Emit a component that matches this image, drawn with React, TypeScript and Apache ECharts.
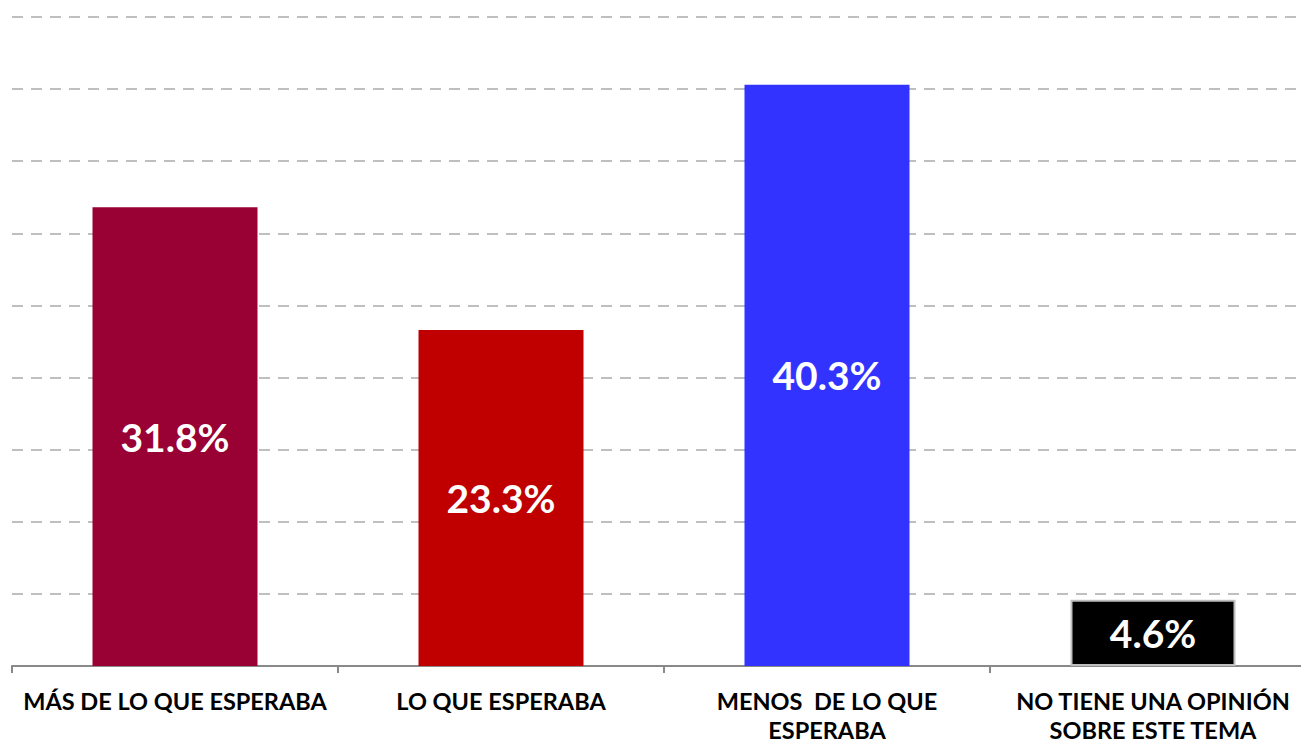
import React, { useEffect, useRef } from "react";
import * as echarts from "echarts";

const categories = [
  "MÁS DE LO QUE ESPERABA",
  "LO QUE ESPERABA",
  "MENOS  DE LO QUE\nESPERABA",
  "NO TIENE UNA OPINIÓN\nSOBRE ESTE TEMA",
];
const values = [31.8, 23.3, 40.3, 4.6];
const colors = ["#990033", "#c00000", "#3333ff", "#000000"];

export default function App() {
  const ref = useRef<HTMLDivElement>(null);
  useEffect(() => {
    if (!ref.current) return;
    const chart = echarts.init(ref.current, undefined, { renderer: "svg" });
    chart.setOption({
      animation: false,
      backgroundColor: "#ffffff",
      grid: { left: 12, right: 14, top: 17, bottom: 79, containLabel: false, outerBoundsMode: "none" },
      xAxis: {
        type: "category",
        data: categories,
        axisLine: { lineStyle: { color: "#898989", width: 2 } },
        axisTick: { show: true, length: 7, lineStyle: { color: "#898989", width: 2 } },
        axisLabel: {
          interval: 0,
          color: "#000000",
          fontFamily: "Lato",
          fontWeight: "bold",
          fontSize: 23.5,
          lineHeight: 29,
          margin: 20,
        },
      },
      yAxis: {
        type: "value",
        min: 0,
        max: 45,
        interval: 5,
        axisLine: { show: false },
        axisTick: { show: false },
        axisLabel: { show: false },
        splitLine: { lineStyle: { color: "#bfbfbf", width: 2, type: [11, 8] } },
      },
      series: [
        {
          type: "bar",
          barWidth: 165,
          data: values.map((v, i) => ({
            value: v,
            itemStyle: {
              color: colors[i],
              borderColor: i === 3 ? "#bfbfbf" : colors[i],
              borderWidth: i === 3 ? 2 : 0,
            },
          })),
          label: {
            show: true,
            position: "inside",
            color: "#ffffff",
            fontFamily: "Lato",
            fontWeight: "bold",
            fontSize: 39,
            formatter: (p: any) => p.value.toFixed(1) + "%",
          },
        },
      ],
    });
    return () => chart.dispose();
  }, []);
  return (
    <div style={{ position: "absolute", left: 0, top: 0, width: 1301, height: 745, overflow: "hidden", background: "#fff" }}>
      <div ref={ref} style={{ width: 1330, height: 745 }} />
    </div>
  );
}
